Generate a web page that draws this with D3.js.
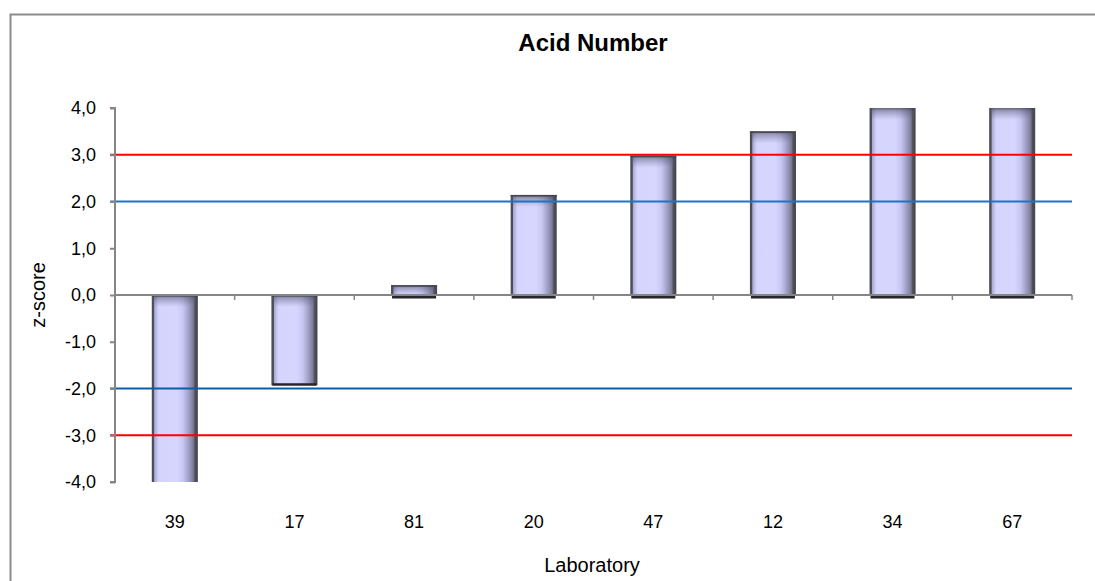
<!DOCTYPE html>
<html>
<head>
<meta charset="utf-8">
<script src="https://cdn.jsdelivr.net/npm/d3@7/dist/d3.min.js"></script>
<style>
  html, body { margin: 0; padding: 0; background: #fff; }
  svg { display: block; font-family: "Liberation Sans", Arial, sans-serif; }
</style>
</head>
<body>
<svg id="chart" width="1095" height="581"></svg>
<script>
// Laboratories and their z-scores for acid number
const laboratories = ["39", "17", "81", "20", "47", "12", "34", "67"];
const zScores = [-4.0, -1.93, 0.21, 2.14, 2.98, 3.5, 4.0, 4.0];
const yTicks = [-4, -3, -2, -1, 0, 1, 2, 3, 4];
// Action limits (|z| = 3) and warning limits (|z| = 2)
const actionLimits = [3, -3];
const warningLimits = [2, -2];

const svg = d3.select("#chart");
const W = 1095, H = 581;
const plot = { left: 115, right: 1072, top: 108, bottom: 482 };

// Outer chart frame (left and top edges visible)
svg.append("path")
  .attr("d", `M10.5,${H} V14.5 H${W}`)
  .attr("fill", "none").attr("stroke", "#8c8c8c").attr("stroke-width", 2);

const x = d3.scaleBand().domain(laboratories).range([plot.left, plot.right]).paddingInner(0.615).paddingOuter(0.3075);
const y = d3.scaleLinear().domain([-4, 4]).range([plot.bottom, plot.top]);

const defs = svg.append("defs");
// Horizontal shading across each bar
const hg = defs.append("linearGradient").attr("id", "barH").attr("x1", 0).attr("x2", 1).attr("y1", 0).attr("y2", 0);
[[0, "#4e4e56"], [0.045, "#4e4e56"], [0.06, "#a8a8d8"], [0.15, "#d4d4fc"], [0.55, "#d6d6ff"], [0.68, "#c6c6f2"], [0.8, "#a0a0c6"], [0.9, "#7c7c98"], [0.94, "#4e4e56"], [1, "#45454c"]]
  .forEach(([o, c]) => hg.append("stop").attr("offset", o).attr("stop-color", c));
// Darkened bevel at the top of each bar
const tg = defs.append("linearGradient").attr("id", "barTop").attr("x1", 0).attr("x2", 0).attr("y1", 0).attr("y2", 1);
[[0, "#3c3c48", 0.75], [0.25, "#50506a", 0.45], [1, "#6a6a90", 0]]
  .forEach(([o, c, a]) => tg.append("stop").attr("offset", o).attr("stop-color", c).attr("stop-opacity", a));

const bars = svg.append("g");
laboratories.forEach((lab, i) => {
  const v = zScores[i];
  const x0 = x(lab), bw = x.bandwidth();
  const yTop = y(Math.max(0, v)), yBot = y(Math.min(0, v));
  const g = bars.append("g");
  g.append("rect").attr("x", x0).attr("y", yTop).attr("width", bw).attr("height", yBot - yTop).attr("fill", "url(#barH)");
  const capH = Math.min(12, yBot - yTop);
  g.append("rect").attr("x", x0 + 2).attr("y", yTop).attr("width", bw - 4).attr("height", capH).attr("fill", "url(#barTop)");
  if (v < 4) g.append("rect").attr("x", x0).attr("y", yTop).attr("width", bw).attr("height", 1.5).attr("fill", "#45454c");
  // dark lower rim
  if (v > -4) g.append("rect").attr("x", x0 + 1).attr("y", v >= 0 ? yBot : yBot - 2).attr("width", bw - 2).attr("height", v >= 0 ? 3.5 : 2.5).attr("fill", "#26262c");
});

// Limit lines
const limitG = svg.append("g");
actionLimits.forEach(v => limitG.append("line")
  .attr("x1", plot.left - 5).attr("x2", plot.right).attr("y1", y(v)).attr("y2", y(v))
  .attr("stroke", "#ff0000").attr("stroke-width", 2));
warningLimits.forEach(v => limitG.append("line")
  .attr("x1", plot.left - 5).attr("x2", plot.right).attr("y1", y(v)).attr("y2", y(v))
  .attr("stroke", v > 0 ? "#1f74c4" : "#0a5ea6").attr("stroke-width", 2));

// Y axis
const yAxis = d3.axisLeft(y).tickValues(yTicks).tickSize(5).tickPadding(14)
  .tickFormat(d => d3.format(".1f")(d).replace(".", ",").replace("−", "-"));
const ya = svg.append("g").attr("transform", `translate(${plot.left},0)`).call(yAxis);
ya.select(".domain").attr("stroke", "#868686").attr("stroke-width", 2).attr("d", `M-5,${y(4)}H0V${y(-4)}H-5`);
ya.selectAll(".tick line").attr("stroke", "#868686").attr("stroke-width", 2);
ya.selectAll("text").attr("font-size", 18).attr("fill", "#000").attr("font-family", "Liberation Sans, Arial, sans-serif");

// X axis along zero, ticks between categories
const xa = svg.append("g");
xa.append("line").attr("x1", plot.left).attr("x2", plot.right).attr("y1", y(0)).attr("y2", y(0))
  .attr("stroke", "#868686").attr("stroke-width", 2);
const step = x.step();
d3.range(laboratories.length + 1).forEach(k => {
  const xx = plot.left + k * step;
  xa.append("line").attr("x1", xx).attr("x2", xx).attr("y1", y(0)).attr("y2", y(0) + 5)
    .attr("stroke", "#868686").attr("stroke-width", 1.5);
});
xa.selectAll("text.cat").data(laboratories).enter().append("text")
  .attr("class", "cat")
  .attr("x", d => x(d) + x.bandwidth() / 2).attr("y", 528)
  .attr("text-anchor", "middle").attr("font-size", 18).text(d => d);

// Titles
svg.append("text").attr("x", 593).attr("y", 51).attr("text-anchor", "middle")
  .attr("font-size", 24).attr("font-weight", "bold").text("Acid Number");
svg.append("text").attr("x", 592).attr("y", 572).attr("text-anchor", "middle")
  .attr("font-size", 20).text("Laboratory");
svg.append("text").attr("transform", `translate(45,${y(0)}) rotate(-90)`).attr("text-anchor", "middle")
  .attr("font-size", 20).text("z-score");
</script>
</body>
</html>
